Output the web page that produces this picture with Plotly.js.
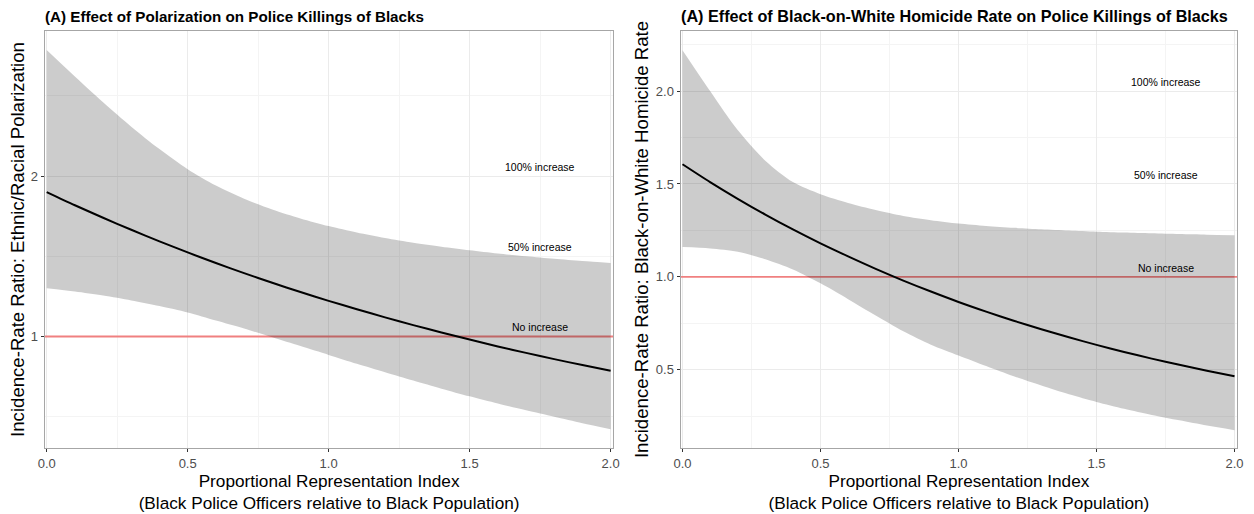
<!DOCTYPE html>
<html>
<head>
<meta charset="utf-8">
<script src="https://cdn.plot.ly/plotly-3.0.1.min.js"></script>
<style>
  html, body { margin: 0; padding: 0; background: #ffffff; }
  #chart { width: 1254px; height: 514px; }
</style>
</head>
<body>
<div id="chart"></div>
<script>
// ---- Data ----
const pri = [0.0, 0.1, 0.2, 0.3, 0.4, 0.5, 0.6, 0.7, 0.8, 0.9, 1.0,
             1.1, 1.2, 1.3, 1.4, 1.5, 1.6, 1.7, 1.8, 1.9, 2.0];

// Panel 1: Ethnic/Racial Polarization
const polarIRR   = [1.90, 1.818, 1.74, 1.665, 1.593, 1.524, 1.458, 1.395, 1.335, 1.277, 1.222,
                    1.17, 1.119, 1.071, 1.025, 0.981, 0.938, 0.898, 0.859, 0.822, 0.787];
const polarUpper = [2.785, 2.62, 2.46, 2.308, 2.168, 2.043, 1.941, 1.859, 1.792, 1.736, 1.688,
                    1.648, 1.614, 1.585, 1.56, 1.538, 1.518, 1.50, 1.484, 1.47, 1.458];
const polarLower = [1.30, 1.28, 1.255, 1.225, 1.19, 1.15, 1.10, 1.05, 0.995, 0.94, 0.885,
                    0.83, 0.777, 0.725, 0.675, 0.627, 0.582, 0.54, 0.50, 0.46, 0.422];

// Panel 2: Black-on-White Homicide Rate
const homIRR   = [1.606, 1.51, 1.42, 1.335, 1.255, 1.18, 1.11, 1.043, 0.98, 0.921, 0.865,
                  0.813, 0.764, 0.718, 0.675, 0.634, 0.596, 0.56, 0.527, 0.495, 0.465];
const homUpper = [2.22, 2.00, 1.79, 1.625, 1.51, 1.445, 1.398, 1.36, 1.328, 1.305, 1.287,
                  1.274, 1.264, 1.256, 1.249, 1.243, 1.238, 1.234, 1.23, 1.227, 1.224];
const homLower = [1.16, 1.153, 1.135, 1.095, 1.04, 0.965, 0.88, 0.792, 0.707, 0.635, 0.577,
                  0.52, 0.465, 0.415, 0.368, 0.327, 0.29, 0.257, 0.228, 0.20, 0.175];

// Reference levels
const refLevels = [1.0, 1.5, 2.0];
const refLabels = ["No increase", "50% increase", "100% increase"];
const labelX = 1.75;
const baseline = 1.0;
const xRange = [-0.006, 2.009];

const panelTitles = [
  "(A) Effect of Polarization on Police Killings of Blacks",
  "(A) Effect of Black-on-White Homicide Rate on Police Killings of Blacks"
];
const yTitles = [
  "Incidence-Rate Ratio: Ethnic/Racial Polarization",
  "Incidence-Rate Ratio: Black-on-White Homicide Rate"
];
const xTitle = "Proportional Representation Index<br>(Black Police Officers relative to Black Population)";

// ---- Styling ----
const FONT = "'Liberation Sans', Arial, Helvetica, sans-serif";
const bandFill = "rgba(0,0,0,0.2)";

function panelTraces(lower, upper, irr, xa, ya) {
  return [
    { x: xRange, y: [baseline, baseline], xaxis: xa, yaxis: ya, type: "scatter", mode: "lines",
      line: { color: "#f08080", width: 1.8 }, hoverinfo: "skip", showlegend: false },
    { x: pri, y: lower, xaxis: xa, yaxis: ya, type: "scatter", mode: "lines",
      line: { width: 0, shape: "spline", smoothing: 0.8 }, hoverinfo: "skip", showlegend: false },
    { x: pri, y: upper, xaxis: xa, yaxis: ya, type: "scatter", mode: "lines",
      line: { width: 0, shape: "spline", smoothing: 0.8 }, fill: "tonexty", fillcolor: bandFill,
      hoverinfo: "skip", showlegend: false },
    { x: pri, y: irr, xaxis: xa, yaxis: ya, type: "scatter", mode: "lines",
      line: { color: "#000000", width: 2, shape: "spline", smoothing: 0.8 }, showlegend: false }
  ];
}

const data = [].concat(
  panelTraces(polarLower, polarUpper, polarIRR, "x", "y"),
  panelTraces(homLower, homUpper, homIRR, "x2", "y2")
);

function xAxis(domain, anchor) {
  return {
    domain: domain, anchor: anchor, range: xRange,
    tickmode: "linear", tick0: 0, dtick: 0.5, tickformat: ".1f",
    ticks: "outside", ticklen: 3, tickcolor: "#333333", tickwidth: 1,
    tickfont: { family: FONT, size: 13, color: "#4d4d4d" },
    showgrid: true, gridcolor: "#ebebeb", gridwidth: 1,
    minor: { tick0: 0.25, dtick: 0.5, showgrid: true, gridcolor: "#f4f4f4", gridwidth: 1, ticks: "" },
    zeroline: false, showline: true, mirror: true, linecolor: "#a6a6a6", linewidth: 1.3,
    title: { text: xTitle, font: { family: FONT, size: 17.2, color: "#000000" }, standoff: 1 },
    automargin: false
  };
}

function yAxis(domain, anchor, range, tick0, dtick, fmt, mtick0, mdtick, titleText, standoff) {
  return {
    domain: domain, anchor: anchor, range: range,
    tickmode: "linear", tick0: tick0, dtick: dtick, tickformat: fmt,
    ticks: "outside", ticklen: 3, tickcolor: "#333333", tickwidth: 1,
    tickfont: { family: FONT, size: 13, color: "#4d4d4d" },
    showgrid: true, gridcolor: "#ebebeb", gridwidth: 1,
    minor: { tick0: mtick0, dtick: mdtick, showgrid: true, gridcolor: "#f4f4f4", gridwidth: 1, ticks: "" },
    zeroline: false, showline: true, mirror: true, linecolor: "#a6a6a6", linewidth: 1.3,
    title: { text: titleText, font: { family: FONT, size: 18.6, color: "#000000" }, standoff: standoff },
    automargin: false
  };
}

const titleSizes = [15.2, 16.2];
const annotations = [];
const axesPairs = [["x", "y"], ["x2", "y2"]];
axesPairs.forEach(function (p, i) {
  annotations.push({
    text: "<b>" + panelTitles[i] + "</b>", xref: p[0] + " domain", yref: p[1] + " domain",
    x: 0, y: 1, xanchor: "left", yanchor: "bottom", yshift: 4, xshift: -2, showarrow: false,
    font: { family: FONT, size: titleSizes[i], color: "#000000" }
  });
  refLevels.forEach(function (lv, j) {
    annotations.push({
      text: refLabels[j], xref: p[0], yref: p[1], x: labelX, y: lv,
      xanchor: "center", yanchor: "bottom", yshift: 1, showarrow: false,
      font: { family: FONT, size: 10.5, color: "#000000" }
    });
  });
});

const layout = {
  width: 1254, height: 514,
  margin: { l: 45, r: 16.7, t: 30.7, b: 65.7 },
  paper_bgcolor: "#ffffff", plot_bgcolor: "#ffffff",
  showlegend: false,
  font: { family: FONT },
  xaxis: xAxis([0, 0.47664], "y"),
  yaxis: yAxis([0, 1], "x", [0.305, 2.904], 1, 1, "d", 0.5, 0.5, yTitles[0], 1),
  xaxis2: xAxis([0.53342, 1], "y2"),
  yaxis2: yAxis([0, 1], "x2", [0.079, 2.323], 0.5, 0.5, ".1f", 0.25, 0.5, yTitles[1], 2),
  annotations: annotations
};

Plotly.newPlot("chart", data, layout, { displayModeBar: false, staticPlot: true });
</script>
</body>
</html>
